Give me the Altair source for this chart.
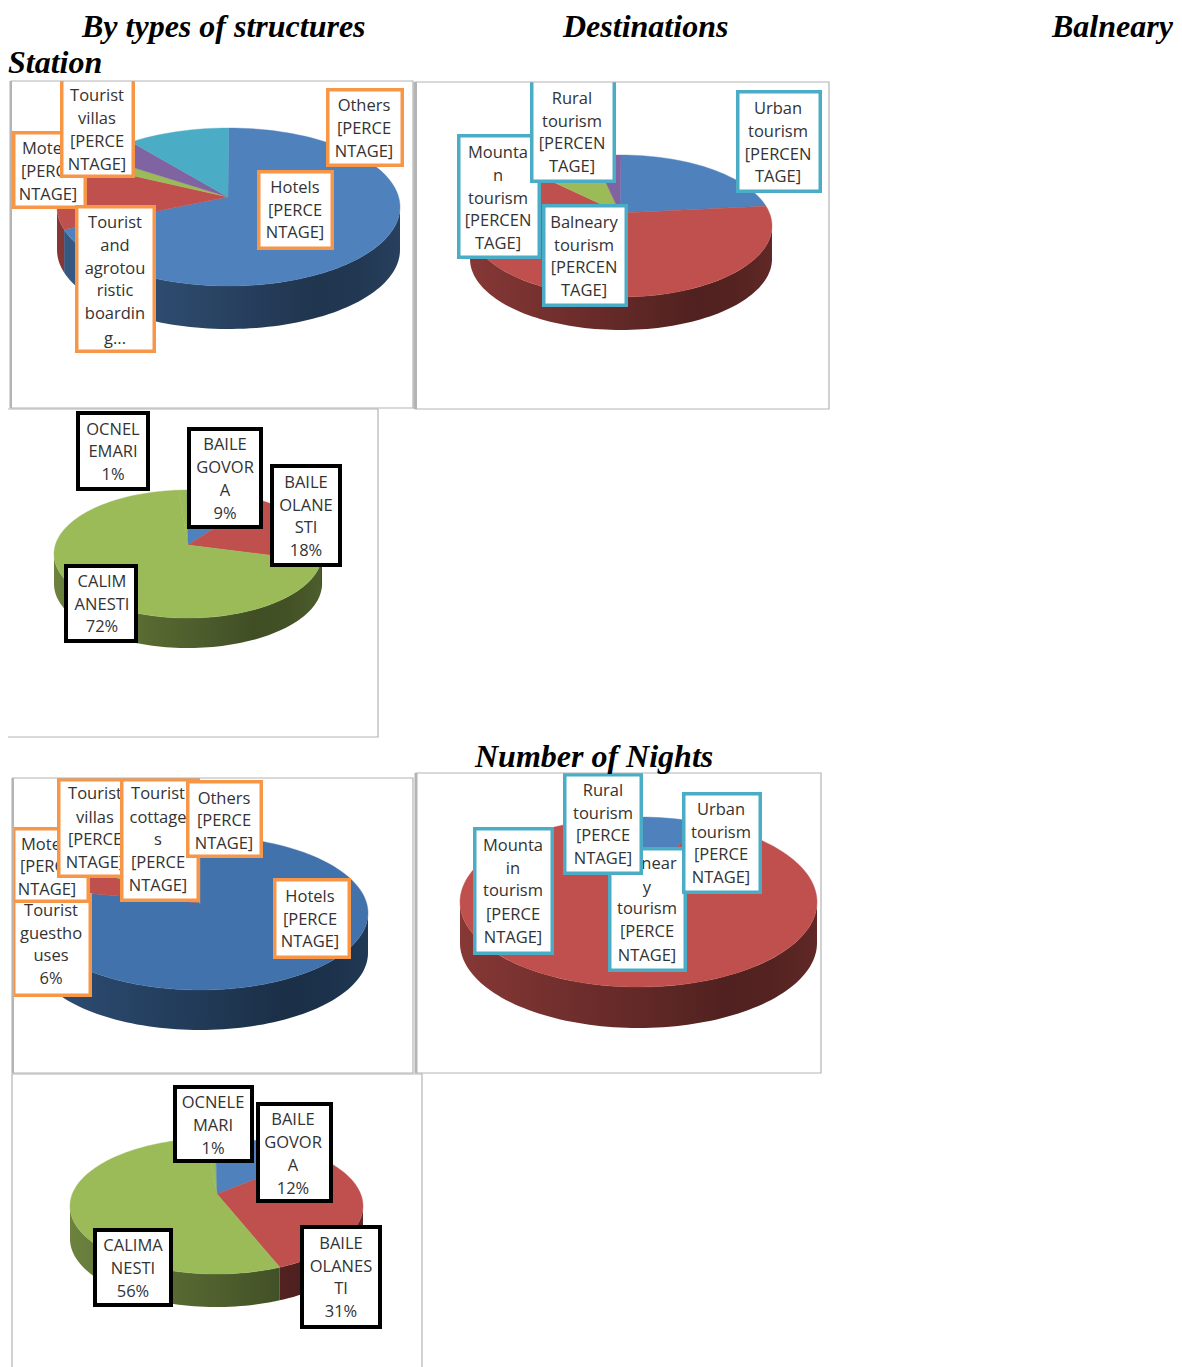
import math
import altair as alt
import pandas as pd

# ---------- chart values (shares, in %) ----------
structures_a_names = ["Hotels", "Motels", "Tourist and agrotouristic boarding", "Tourist villas", "Others"]
structures_a_share = [70.4, 13.6, 2.1, 4.3, 9.6]
destinations_a_names = ["Urban tourism", "Mountain tourism", "Balneary tourism", "Rural tourism"]
destinations_a_share = [20.5, 68.9, 7.7, 2.9]
balneary_a_names = ["OCNELE MARI", "BAILE GOVORA", "BAILE OLANESTI", "CALIMANESTI"]
balneary_a_share = [1, 9, 18, 72]
structures_b_names = ["Hotels", "Motels", "Tourist villas", "Tourist cottages", "Tourist guesthouses", "Others"]
structures_b_share = [80, 6, 2, 2, 6, 4]
destinations_b_names = ["Urban tourism", "Mountain tourism", "Balneary tourism", "Rural tourism"]
destinations_b_share = [5.5, 90.5, 2, 2]
balneary_b_names = ["OCNELE MARI", "BAILE GOVORA", "BAILE OLANESTI", "CALIMANESTI"]
balneary_b_share = [1, 12, 31, 56]

BLUE, RED, GREEN, PURPLE, TEAL, ORANGE = "#4f81bd", "#c0504d", "#9bbb59", "#8064a2", "#4bacc6", "#f79646"
structures_a_colors = [BLUE, RED, GREEN, PURPLE, TEAL]
destinations_a_colors = [BLUE, RED, GREEN, PURPLE]
balneary_a_colors = [GREEN, BLUE, RED, GREEN]
structures_b_colors = ["#4272ab", RED, GREEN, PURPLE, TEAL, ORANGE]
destinations_b_colors = [BLUE, RED, GREEN, PURPLE]
balneary_b_colors = [GREEN, BLUE, RED, GREEN]

titles = [
    ("By types of structures", 82, 37),
    ("Destinations", 563, 37),
    ("Balneary", 1052, 37),
    ("Station", 8, 73),
    ("Number of Nights", 475, 767),
]

# ---------- layout ----------
# pie geometry: ellipse cx, cy, rx, ry, slice apex ax, ay, rim depth, start angle
pies = [
    (structures_a_share, structures_a_colors, 228.5, 207, 171.5, 79, 228, 197, 43, 0),
    (destinations_a_share, destinations_a_colors, 621, 226, 151, 71, 620, 213, 33, 0),
    (balneary_a_share, balneary_a_colors, 188, 554, 134, 64, 188, 545, 30, -4),
    (structures_b_share, structures_b_colors, 200, 913, 168, 77, 200, 903, 40, 0),
    (destinations_b_share, destinations_b_colors, 638.5, 902, 178.5, 85, 638, 893, 41, 0),
    (balneary_b_share, balneary_b_colors, 216.5, 1206, 146.5, 68, 217, 1194, 33, -4),
]
panels = [
    (11, 81, 413, 408), (415.5, 82, 829, 409), (0, 409, 378, 737),
    (12.5, 778, 413, 1073), (416, 773, 821, 1073), (12, 1074, 422, 1400),
]
thick_sides = [(9.5, 81, 12, 408), (413.5, 82, 417, 409), (11.5, 778, 14, 1073), (414.5, 773, 417.5, 1073)]
masks = [(5, 55, 420, 81), (412, 55, 835, 82)]

# label: colour, x0, y0, x1, y1, centre x, [(line, y), ...]
labels = [
    (ORANGE, 12, 131, 87, 209, 48, [("Motels", 148), ("[PERCE", 171), ("NTAGE]", 194)]),
    (ORANGE, 60, 70, 135, 178, 97, [("Tourist", 95), ("villas", 118), ("[PERCE", 141), ("NTAGE]", 164)]),
    (ORANGE, 75, 205, 156, 353, 115, [("Tourist", 222), ("and", 245), ("agrotou", 268), ("ristic", 290), ("boardin", 313), ("g...", 338)]),
    (ORANGE, 257, 170, 334, 250, 295, [("Hotels", 187), ("[PERCE", 210), ("NTAGE]", 232)]),
    (ORANGE, 326, 88, 404, 167, 364, [("Others", 105), ("[PERCE", 128), ("NTAGE]", 151)]),
    (TEAL, 457, 134, 541, 259, 498, [("Mounta", 152), ("n", 175), ("tourism", 198), ("[PERCEN", 220), ("TAGE]", 243)]),
    (TEAL, 530, 70, 616, 183, 572, [("Rural", 98), ("tourism", 121), ("[PERCEN", 143), ("TAGE]", 166)]),
    (TEAL, 542, 204, 628, 307, 584, [("Balneary", 222), ("tourism", 245), ("[PERCEN", 267), ("TAGE]", 290)]),
    (TEAL, 736, 90, 822, 193, 778, [("Urban", 108), ("tourism", 131), ("[PERCEN", 154), ("TAGE]", 176)]),
    ("#000000", 76, 411, 150, 491, 113, [("OCNEL", 429), ("EMARI", 451), ("1%", 474)]),
    ("#000000", 187, 427, 263, 529, 225, [("BAILE", 444), ("GOVOR", 467), ("A", 490), ("9%", 513)]),
    ("#000000", 270, 464, 342, 567, 306, [("BAILE", 482), ("OLANE", 505), ("STI", 527), ("18%", 550)]),
    ("#000000", 64, 564, 138, 643, 102, [("CALIM", 581), ("ANESTI", 604), ("72%", 626)]),
    (ORANGE, 12, 893, 92, 997, 51, [("Tourist", 910), ("guestho", 933), ("uses", 955), ("6%", 978)]),
    (ORANGE, 12, 827, 90, 903, 47, [("Motels", 844), ("[PERCE", 866), ("NTAGE]", 889)]),
    (ORANGE, 57, 778, 133, 878, 95, [("Tourist", 793), ("villas", 817), ("[PERCE", 839), ("NTAGE]", 862)]),
    (ORANGE, 120, 778, 200, 902, 158, [("Tourist", 793), ("cottage", 817), ("s", 839), ("[PERCE", 862), ("NTAGE]", 885)]),
    (ORANGE, 186, 780, 263, 858, 224, [("Others", 798), ("[PERCE", 820), ("NTAGE]", 843)]),
    (ORANGE, 273, 878, 351, 959, 310, [("Hotels", 896), ("[PERCE", 919), ("NTAGE]", 941)]),
    (TEAL, 608, 847, 687, 972, 647, [("Balnear", 863), ("y", 887), ("tourism", 908), ("[PERCE", 931), ("NTAGE]", 955)]),
    (TEAL, 473, 827, 554, 955, 513, [("Mounta", 845), ("in", 868), ("tourism", 890), ("[PERCE", 914), ("NTAGE]", 937)]),
    (TEAL, 563, 773, 643, 875, 603, [("Rural", 790), ("tourism", 813), ("[PERCE", 835), ("NTAGE]", 858)]),
    (TEAL, 682, 792, 762, 894, 721, [("Urban", 809), ("tourism", 832), ("[PERCE", 854), ("NTAGE]", 877)]),
    ("#000000", 173, 1085, 254, 1163, 213, [("OCNELE", 1102), ("MARI", 1125), ("1%", 1148)]),
    ("#000000", 256, 1102, 333, 1203, 293, [("BAILE", 1119), ("GOVOR", 1142), ("A", 1165), ("12%", 1188)]),
    ("#000000", 300, 1225, 382, 1329, 341, [("BAILE", 1243), ("OLANES", 1266), ("TI", 1288), ("31%", 1311)]),
    ("#000000", 93, 1228, 173, 1307, 133, [("CALIMA", 1245), ("NESTI", 1268), ("56%", 1291)]),
]

SX = alt.Scale(domain=[8, 1174], range=[0, 1166], nice=False, zero=False)
SY = alt.Scale(domain=[8, 1367], range=[0, 1359], nice=False, zero=False)
PROJ = dict(type="identity", scale=1, translate=[-8, -8])


def shade(color, factor):
    r, g, b = [int(color[i:i + 2], 16) for i in (1, 3, 5)]
    return "#%02x%02x%02x" % (int(r * factor), int(g * factor), int(b * factor))


def feature(ring, fill):
    ring = [[round(x, 2), round(y, 2)] for x, y in ring]
    ring.append(ring[0])
    return {"type": "Feature", "properties": {"fill": fill},
            "geometry": {"type": "Polygon", "coordinates": [ring]}}


def rim_factor(u):
    return 0.70 - 0.30 * u / 0.8 if u < 0.8 else 0.40 + 0.5 * (u - 0.8)


def pie_layers(shares, colors, cx, cy, rx, ry, ax, ay, depth, start):
    """Layers of a tilted pie, derived from the shares through trigonometry."""
    def pt(t, dy=0):
        a = math.radians(t)
        return cx + rx * math.sin(a), cy - ry * math.cos(a) + dy

    total = sum(shares)
    bounds, acc = [], 0
    for s in shares:
        bounds.append((start + acc / total * 360, start + (acc + s) / total * 360))
        acc += s

    out, top = [], []
    for (t0, t1), col in zip(bounds, colors):
        lo, hi = max(t0, 90), min(t1, 270)
        if lo < hi:
            n = max(2, int((hi - lo) / 2))
            ts = [lo + (hi - lo) * i / n for i in range(n + 1)]
            ring = [pt(t) for t in ts] + [pt(t, depth) for t in reversed(ts)]
            xs = [p[0] for p in ring]
            xmin, xmax = min(xs), max(xs)
            stops = []
            for i in range(9):
                off = i / 8
                u = (xmin + (xmax - xmin) * off - (cx - rx)) / (2 * rx)
                stops.append(alt.GradientStop(offset=off, color=shade(col, rim_factor(u))))
            grad = alt.LinearGradient(gradient="linear", stops=stops, x1=0, x2=1, y1=0, y2=0)
            out.append(alt.Chart(alt.Data(values=[feature(ring, col)])).mark_geoshape(fill=grad, strokeWidth=0)
                       .project(**PROJ))
        n = max(2, int((t1 - t0) / 2))
        arc = [pt(t0 + (t1 - t0) * i / n) for i in range(n + 1)]
        top.append(feature([(ax, ay)] + arc, col))
    out.append(alt.Chart(alt.Data(values=top)).mark_geoshape(strokeWidth=0.4).encode(
        color=alt.Color("properties.fill:N", scale=None, legend=None),
        stroke=alt.Stroke("properties.fill:N", scale=None, legend=None),
    ).project(**PROJ))
    return out


def rect_layer(rows, **mark):
    df = pd.DataFrame(rows, columns=["x", "y", "x2", "y2"])
    return alt.Chart(df).mark_rect(**mark).encode(
        x=alt.X("x:Q", scale=SX, axis=None), x2="x2:Q",
        y=alt.Y("y:Q", scale=SY, axis=None), y2="y2:Q",
    )


layers = [rect_layer([(0, 0, 1190, 1375)], fill="#ffffff")]
for p in pies:
    layers += pie_layers(*p)

LABEL_FONT = dict(font="Open Sans", fontSize=16.5, color="#333333", align="center", baseline="middle", dy=1)
for col, x0, y0, x1, y1, xc, lines in labels:
    sw = 4 if col == "#000000" else 3.5
    layers.append(rect_layer([(x0 + sw / 2, y0 + sw / 2, x1 - sw / 2, y1 - sw / 2)],
                             fill="#ffffff", stroke=col, strokeWidth=sw))
    dft = pd.DataFrame({"t": [l[0] for l in lines], "y": [l[1] for l in lines], "x": [xc] * len(lines)})
    layers.append(alt.Chart(dft).mark_text(**LABEL_FONT).encode(
        x=alt.X("x:Q", scale=SX, axis=None), y=alt.Y("y:Q", scale=SY, axis=None), text="t:N"))

layers.append(rect_layer(masks, fill="#ffffff"))
layers.append(rect_layer(panels, fillOpacity=0, stroke="#b4b4b4", strokeWidth=1.2))
layers.append(rect_layer(thick_sides, fill="#b4b4b4"))

dft = pd.DataFrame(titles, columns=["t", "x", "y"])
layers.append(alt.Chart(dft).mark_text(font="Liberation Serif", fontSize=32, fontWeight="bold", fontStyle="italic",
                                       color="#000000", align="left", baseline="alphabetic").encode(
    x=alt.X("x:Q", scale=SX, axis=None), y=alt.Y("y:Q", scale=SY, axis=None), text="t:N"))

chart = alt.layer(*layers).properties(
    width=1166, height=1359, padding=0, autosize=alt.AutoSizeParams(type="none"), background="#ffffff",
).configure_view(strokeWidth=0)

chart.save("out.html", embed_options={"renderer": "svg", "actions": False})
